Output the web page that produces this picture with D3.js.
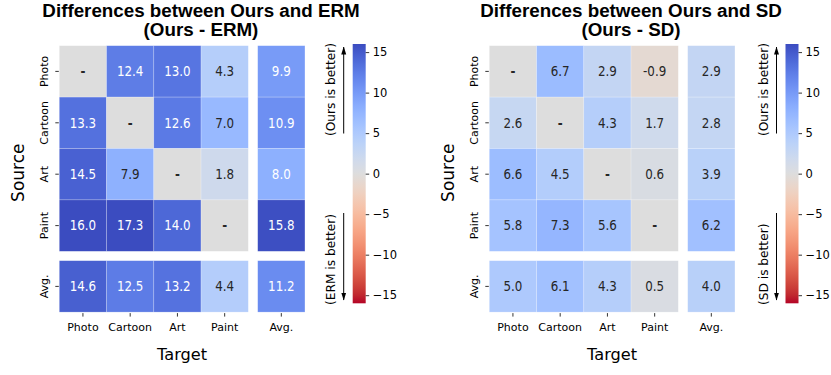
<!DOCTYPE html>
<html>
<head>
<meta charset="utf-8">
<script src="https://cdn.jsdelivr.net/npm/d3@7"></script>
<style>
  body { margin: 0; background: #fff; }
  text { font-family: "DejaVu Sans", sans-serif; fill: #000; }
  .title { font-family: "Liberation Sans", Arial, sans-serif; font-weight: bold; font-size: 18.8px; }
  .axis text { font-size: 11px; }
  .axis line { stroke: #000; stroke-width: 0.8; }
  .axis .domain { display: none; }
</style>
</head>
<body>
<svg id="chart" width="831" height="375"></svg>
<script>
var sources = ['Photo', 'Cartoon', 'Art', 'Paint'];
var targets = ['Photo', 'Cartoon', 'Art', 'Paint'];
var avgLabel = 'Avg.';

// rows = source domain, columns = target domain, null on the diagonal
var ermDiff = [
  [null, 12.4, 13.0, 4.3],
  [13.3, null, 12.6, 7.0],
  [14.5, 7.9, null, 1.8],
  [16.0, 17.3, 14.0, null],
];
var ermRowAvg = [9.9, 10.9, 8.0, 15.8];
var ermColAvg = [14.6, 12.5, 13.2, 4.4];
var ermTotal = 11.2;

var sdDiff = [
  [null, 6.7, 2.9, -0.9],
  [2.6, null, 4.3, 1.7],
  [6.6, 4.5, null, 0.6],
  [5.8, 7.3, 5.6, null],
];
var sdRowAvg = [2.9, 2.8, 3.9, 6.2];
var sdColAvg = [5.0, 6.1, 4.3, 0.5];
var sdTotal = 4.0;

var colorTicks = [-15, -10, -5, 0, 5, 10, 15];
var colorLimit = 16;

// matplotlib coolwarm, 33 stops
var coolwarmStops = [
  '#3b4cc0', '#445acc', '#4d68d7', '#5775e1', '#6282ea', '#6c8ef1', '#779af7',
  '#82a5fb', '#8db0fe', '#98b9ff', '#a3c2ff', '#aec9fd', '#b8d0f9', '#c2d5f4',
  '#ccd9ee', '#d5dbe6', '#dddddd', '#e5d8d1', '#ecd3c5', '#f1ccb8', '#f5c4ac',
  '#f7bb9f', '#f7b193', '#f7a686', '#f49a7b', '#f18d6f', '#ec7f63', '#e57059',
  '#de604d', '#d55042', '#cb3e38', '#c0282f', '#b40426'
];
var coolwarm = d3.scaleLinear()
    .domain(coolwarmStops.map((c, i) => i / (coolwarmStops.length - 1)))
    .range(coolwarmStops)
    .interpolate(d3.interpolateRgb)
    .clamp(true);
// reversed: positive = blue
var color = v => coolwarm((colorLimit - (v === null ? 0 : v)) / (2 * colorLimit));

function luminance(c) {
  var rgb = d3.rgb(c);
  var lin = [rgb.r, rgb.g, rgb.b].map(x => {
    x = x / 255;
    return x <= 0.03928 ? x / 12.92 : Math.pow((x + 0.055) / 1.055, 2.4);
  });
  return 0.2126 * lin[0] + 0.7152 * lin[1] + 0.0722 * lin[2];
}
var lumCut = 0.439;

var panels = [
  {title: ['Differences between Ours and ERM', '(Ours - ERM)'], other: 'ERM',
   diff: ermDiff, rowAvg: ermRowAvg, colAvg: ermColAvg, total: ermTotal,
   x0: 59.3, cbX: 352.7},
  {title: ['Differences between Ours and SD', '(Ours - SD)'], other: 'SD',
   diff: sdDiff, rowAvg: sdRowAvg, colAvg: sdColAvg, total: sdTotal,
   x0: 489.3, cbX: 785.5},
];

var cellW = 47.25;
var cellH = 51.4;
var gap = 9.4;
var gridTop = 45.7;
var barW = 13;
var cbTop = 44;
var cbBottom = 303.3;

var svg = d3.select('#chart');
var defs = svg.append('defs');

defs.append('marker')
    .attr('id', 'arrowhead')
    .attr('markerUnits', 'userSpaceOnUse')
    .attr('markerWidth', 8)
    .attr('markerHeight', 6)
    .attr('refX', 7.5)
    .attr('refY', 3)
    .attr('orient', 'auto')
    .append('path')
    .attr('d', 'M0,0.5 L8,3 L0,5.5 Z')
    .attr('fill', '#000');

function drawPanel(p, idx) {
  var g = svg.append('g').attr('class', 'panel');

  var x = d3.scaleBand().domain(targets).range([p.x0, p.x0 + 4 * cellW]);
  var xAvg = d3.scaleBand().domain([avgLabel])
      .range([p.x0 + 4 * cellW + gap, p.x0 + 5 * cellW + gap]);
  var y = d3.scaleBand().domain(sources).range([gridTop, gridTop + 4 * cellH]);
  var yAvg = d3.scaleBand().domain([avgLabel])
      .range([gridTop + 4 * cellH + gap, gridTop + 5 * cellH + gap]);

  var cells = [];
  sources.forEach((s, i) => {
    targets.forEach((t, j) => {
      cells.push({xs: x, xk: t, ys: y, yk: s, v: p.diff[i][j]});
    });
    cells.push({xs: xAvg, xk: avgLabel, ys: y, yk: s, v: p.rowAvg[i]});
  });
  targets.forEach((t, j) => {
    cells.push({xs: x, xk: t, ys: yAvg, yk: avgLabel, v: p.colAvg[j]});
  });
  cells.push({xs: xAvg, xk: avgLabel, ys: yAvg, yk: avgLabel, v: p.total});

  var cell = g.selectAll('g.cell')
      .data(cells)
      .join('g')
      .attr('class', 'cell');

  cell.append('rect')
      .attr('x', d => d.xs(d.xk))
      .attr('y', d => d.ys(d.yk))
      .attr('width', d => d.xs.bandwidth())
      .attr('height', d => d.ys.bandwidth())
      .attr('fill', d => color(d.v))
      .attr('stroke', 'rgba(255,255,255,0.35)')
      .attr('stroke-width', 0.6);

  // annotations are drawn a bit narrow, as in the source figure
  cell.append('text')
      .attr('transform', d => 'translate(' + (d.xs(d.xk) + d.xs.bandwidth() / 2) + ',' +
            (d.ys(d.yk) + d.ys.bandwidth() / 2) + ') scale(0.85,1)')
      .attr('text-anchor', 'middle')
      .attr('dominant-baseline', 'central')
      .style('font-size', '14px')
      .style('font-weight', d => d.v === null ? 'bold' : 'normal')
      .style('fill', d => luminance(color(d.v)) > lumCut ? '#262626' : '#fff')
      .text(d => d.v === null ? '-' : d.v.toFixed(1));

  // axes
  var axisY = gridTop + 5 * cellH + gap + 1;
  [x, xAvg].forEach(sc => {
    g.append('g')
        .attr('class', 'axis')
        .attr('transform', 'translate(0,' + axisY + ')')
        .call(d3.axisBottom(sc).tickSize(3.5).tickPadding(6.5));
  });
  [y, yAvg].forEach(sc => {
    g.append('g')
        .attr('class', 'axis')
        .attr('transform', 'translate(' + (p.x0 - 0.5) + ',0)')
        .call(d3.axisLeft(sc).tickSize(3.5))
        .selectAll('text')
        .attr('x', 0)
        .attr('dy', 0)
        .attr('text-anchor', 'middle')
        .attr('transform', 'translate(-11,0) rotate(-90)');
  });

  // axis titles
  g.append('text')
      .attr('x', p.x0 + (5 * cellW + gap) / 2)
      .attr('y', 360)
      .attr('text-anchor', 'middle')
      .style('font-size', '16.2px')
      .text('Target');
  g.append('text')
      .attr('transform', 'translate(' + (p.x0 - 35.5) + ',172.7) rotate(-90)')
      .attr('text-anchor', 'middle')
      .style('font-size', '17px')
      .text('Source');

  // title
  g.selectAll('text.title')
      .data(p.title)
      .join('text')
      .attr('class', 'title')
      .attr('x', p.x0 + 141.7)
      .attr('y', (d, i) => 17 + i * 18.7)
      .attr('text-anchor', 'middle')
      .text(d => d);

  // colorbar
  var gradId = 'cb-grad-' + idx;
  var grad = defs.append('linearGradient')
      .attr('id', gradId)
      .attr('x1', 0).attr('y1', 1)
      .attr('x2', 0).attr('y2', 0);
  var cbScale = d3.scaleLinear().domain([-colorLimit, colorLimit]).range([cbBottom, cbTop]);
  grad.selectAll('stop')
      .data(d3.range(0, 65).map(k => -colorLimit + k * colorLimit / 32))
      .join('stop')
      .attr('offset', v => (v + colorLimit) / (2 * colorLimit))
      .attr('stop-color', v => color(v));
  g.append('rect')
      .attr('x', p.cbX)
      .attr('y', cbTop)
      .attr('width', barW)
      .attr('height', cbBottom - cbTop)
      .attr('fill', 'url(#' + gradId + ')');
  g.append('g')
      .attr('class', 'axis')
      .attr('transform', 'translate(' + (p.cbX + barW) + ',0)')
      .call(d3.axisRight(cbScale).tickValues(colorTicks).tickSize(3.5).tickPadding(3.5))
      .selectAll('text')
      .style('font-size', '11.5px');

  // "better" arrows
  var ax = p.cbX - 9;
  g.append('line')
      .attr('x1', ax).attr('y1', 133.5)
      .attr('x2', ax).attr('y2', 47)
      .attr('stroke', '#000').attr('stroke-width', 1)
      .attr('marker-end', 'url(#arrowhead)');
  g.append('line')
      .attr('x1', ax).attr('y1', 213)
      .attr('x2', ax).attr('y2', 300)
      .attr('stroke', '#000').attr('stroke-width', 1)
      .attr('marker-end', 'url(#arrowhead)');
  var tx = p.cbX - 17.5;
  g.append('text')
      .attr('transform', 'translate(' + tx + ',43) rotate(-90)')
      .attr('text-anchor', 'end')
      .style('font-size', '12.2px')
      .text('(Ours is better)');
  g.append('text')
      .attr('transform', 'translate(' + tx + ',305) rotate(-90)')
      .attr('text-anchor', 'start')
      .style('font-size', '12.2px')
      .text('(' + p.other + ' is better)');
}

panels.forEach(drawPanel);
</script>
</body>
</html>
